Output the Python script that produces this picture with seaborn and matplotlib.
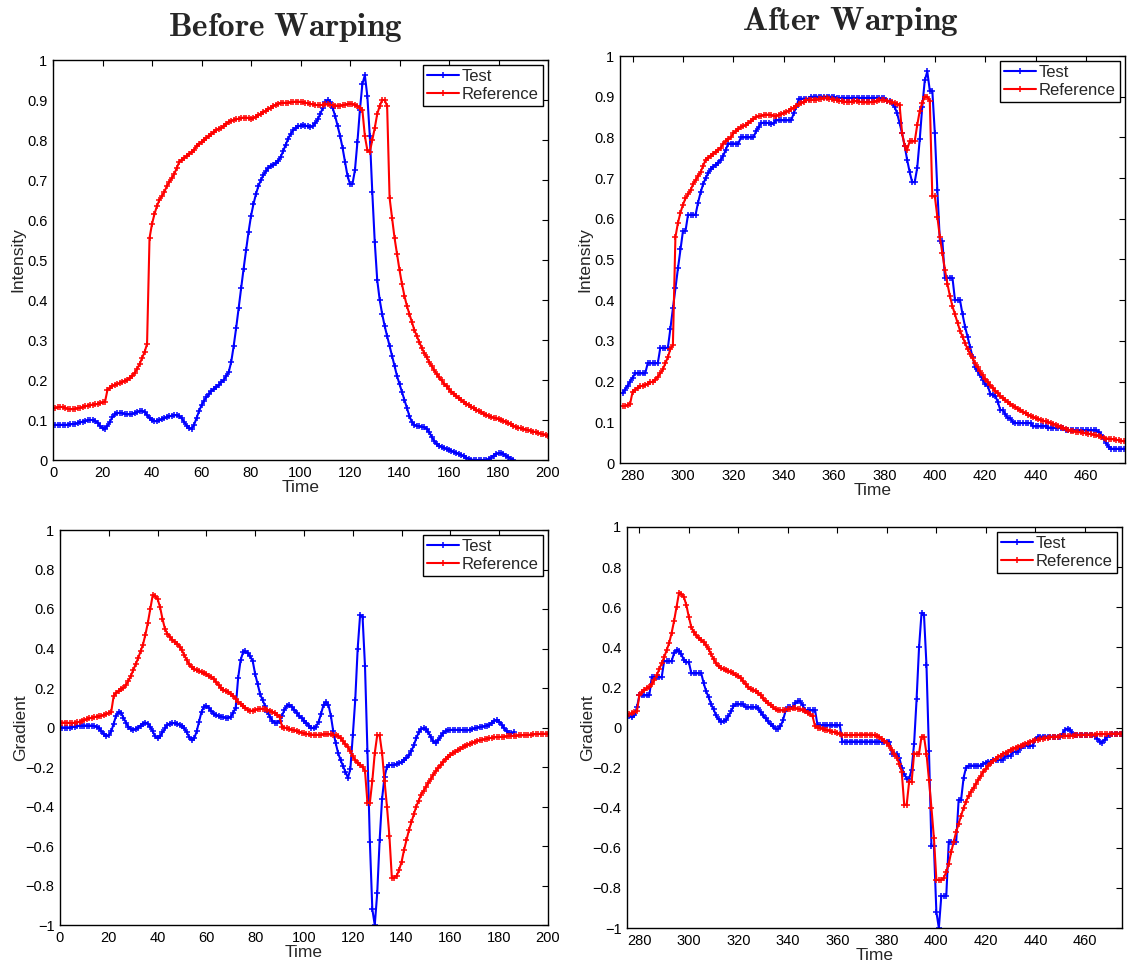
import numpy as np
import matplotlib
matplotlib.use('Agg')
import matplotlib.pyplot as plt
import seaborn as sns
from matplotlib.ticker import FuncFormatter, MultipleLocator

# values, one sample per time step
before_start = 0
after_start = 276

before_test_int = [
    0.088, 0.088, 0.088, 0.088, 0.088, 0.088, 0.088, 0.089, 0.090, 0.091,
    0.092, 0.094, 0.096, 0.097, 0.099, 0.100, 0.100, 0.098, 0.093, 0.086,
    0.079, 0.078, 0.085, 0.096, 0.107, 0.114, 0.117, 0.118, 0.117, 0.115,
    0.114, 0.114, 0.115, 0.117, 0.120, 0.122, 0.123, 0.120, 0.113, 0.105,
    0.099, 0.097, 0.097, 0.099, 0.102, 0.105, 0.107, 0.109, 0.111, 0.112,
    0.112, 0.110, 0.104, 0.095, 0.086, 0.080, 0.078, 0.088, 0.105, 0.122,
    0.137, 0.148, 0.157, 0.165, 0.172, 0.177, 0.182, 0.188, 0.194, 0.200,
    0.210, 0.220, 0.245, 0.285, 0.330, 0.380, 0.430, 0.478, 0.525, 0.570,
    0.610, 0.640, 0.665, 0.685, 0.700, 0.712, 0.722, 0.730, 0.735, 0.738,
    0.742, 0.748, 0.758, 0.772, 0.788, 0.803, 0.815, 0.824, 0.830, 0.834,
    0.836, 0.837, 0.836, 0.834, 0.833, 0.835, 0.842, 0.852, 0.865, 0.880,
    0.895, 0.900, 0.895, 0.880, 0.860, 0.835, 0.810, 0.780, 0.745, 0.710,
    0.690, 0.690, 0.725, 0.795, 0.875, 0.940, 0.962, 0.910, 0.810, 0.670,
    0.545, 0.450, 0.400, 0.365, 0.335, 0.310, 0.285, 0.260, 0.235, 0.210,
    0.190, 0.170, 0.150, 0.130, 0.110, 0.095, 0.088, 0.085, 0.084, 0.083,
    0.082, 0.078, 0.070, 0.058, 0.048, 0.040, 0.036, 0.033, 0.030, 0.028,
    0.026, 0.023, 0.020, 0.018, 0.015, 0.012, 0.009, 0.006, 0.003, 0.001,
    0.000, 0.000, 0.000, 0.000, 0.000, 0.000, 0.002, 0.006, 0.011, 0.015,
    0.017, 0.017, 0.015, 0.011, 0.007, 0.003, 0.001,
]

before_ref_int = [
    0.130, 0.130, 0.132, 0.133, 0.132, 0.130, 0.128, 0.127, 0.127, 0.128,
    0.130, 0.130, 0.132, 0.134, 0.136, 0.138, 0.138, 0.139, 0.140, 0.142,
    0.144, 0.145, 0.175, 0.180, 0.185, 0.188, 0.190, 0.192, 0.195, 0.198,
    0.200, 0.205, 0.210, 0.218, 0.228, 0.240, 0.255, 0.270, 0.290, 0.555,
    0.590, 0.615, 0.635, 0.650, 0.660, 0.670, 0.685, 0.695, 0.705, 0.715,
    0.730, 0.745, 0.750, 0.755, 0.760, 0.765, 0.770, 0.775, 0.785, 0.790,
    0.795, 0.800, 0.805, 0.810, 0.815, 0.820, 0.825, 0.828, 0.830, 0.835,
    0.840, 0.845, 0.848, 0.850, 0.852, 0.853, 0.855, 0.856, 0.856, 0.855,
    0.853, 0.855, 0.858, 0.862, 0.866, 0.870, 0.873, 0.877, 0.881, 0.885,
    0.888, 0.891, 0.893, 0.893, 0.893, 0.893, 0.894, 0.895, 0.896, 0.896,
    0.895, 0.894, 0.893, 0.892, 0.890, 0.889, 0.888, 0.887, 0.887, 0.888,
    0.889, 0.889, 0.888, 0.887, 0.886, 0.886, 0.886, 0.887, 0.888, 0.890,
    0.891, 0.890, 0.888, 0.885, 0.880, 0.875, 0.810, 0.775, 0.770, 0.800,
    0.830, 0.865, 0.885, 0.900, 0.900, 0.885, 0.655, 0.605, 0.555, 0.515,
    0.475, 0.440, 0.410, 0.385, 0.365, 0.345, 0.325, 0.310, 0.295, 0.280,
    0.268, 0.257, 0.245, 0.235, 0.225, 0.215, 0.207, 0.199, 0.191, 0.184,
    0.177, 0.171, 0.165, 0.159, 0.154, 0.149, 0.145, 0.141, 0.137, 0.133,
    0.129, 0.125, 0.122, 0.119, 0.116, 0.113, 0.110, 0.108, 0.106, 0.104,
    0.102, 0.100, 0.098, 0.095, 0.092, 0.089, 0.086, 0.083, 0.081, 0.079,
    0.078, 0.076, 0.075, 0.073, 0.071, 0.070, 0.068, 0.066, 0.064, 0.062,
    0.060,
]

before_test_grad = [
    0.000, 0.000, 0.000, 0.000, 0.000, 0.002, 0.005, 0.007, 0.009, 0.010,
    0.010, 0.010, 0.010, 0.010, 0.008, 0.004, -0.004, -0.018, -0.035, -0.045,
    -0.040, -0.020, 0.020, 0.060, 0.078, 0.075, 0.050, 0.025, 0.005, -0.008,
    -0.012, -0.008, 0.000, 0.010, 0.020, 0.025, 0.020, 0.005, -0.020, -0.045,
    -0.055, -0.045, -0.025, -0.005, 0.012, 0.020, 0.022, 0.022, 0.020, 0.015,
    0.008, -0.005, -0.025, -0.050, -0.065, -0.055, -0.020, 0.030, 0.080, 0.105,
    0.110, 0.100, 0.085, 0.070, 0.062, 0.058, 0.055, 0.052, 0.050, 0.050,
    0.055, 0.075, 0.100, 0.250, 0.340, 0.380, 0.385, 0.375, 0.360, 0.335,
    0.270, 0.220, 0.170, 0.140, 0.110, 0.080, 0.055, 0.035, 0.025, 0.025,
    0.035, 0.060, 0.090, 0.110, 0.115, 0.105, 0.090, 0.075, 0.060, 0.048,
    0.035, 0.022, 0.010, 0.000, -0.005, 0.005, 0.030, 0.070, 0.115, 0.130,
    0.115, 0.060, -0.020, -0.080, -0.130, -0.165, -0.195, -0.225, -0.255, -0.210,
    -0.040, 0.140, 0.400, 0.570, 0.560, 0.310, -0.120, -0.580, -0.920, -1.000,
    -0.840, -0.570, -0.360, -0.250, -0.200, -0.190, -0.190, -0.190, -0.185, -0.180,
    -0.175, -0.165, -0.155, -0.140, -0.120, -0.090, -0.055, -0.025, -0.008, -0.005,
    -0.010, -0.025, -0.050, -0.070, -0.080, -0.065, -0.045, -0.030, -0.020, -0.015,
    -0.012, -0.012, -0.012, -0.012, -0.012, -0.013, -0.014, -0.014, -0.012, -0.008,
    -0.005, 0.000, 0.003, 0.005, 0.006, 0.010, 0.015, 0.025, 0.035, 0.038,
    0.030, 0.015, -0.002, -0.018, -0.028, -0.030, -0.025,
]

before_ref_grad = [
    0.025, 0.025, 0.025, 0.024, 0.023, 0.023, 0.024, 0.026, 0.029, 0.033,
    0.038, 0.042, 0.046, 0.050, 0.053, 0.055, 0.057, 0.060, 0.064, 0.068,
    0.073, 0.080, 0.160, 0.175, 0.185, 0.195, 0.200, 0.215, 0.235, 0.260,
    0.290, 0.320, 0.350, 0.385, 0.420, 0.470, 0.530, 0.600, 0.670, 0.665,
    0.650, 0.610, 0.550, 0.500, 0.475, 0.460, 0.445, 0.435, 0.425, 0.410,
    0.390, 0.365, 0.340, 0.320, 0.305, 0.295, 0.290, 0.285, 0.280, 0.275,
    0.270, 0.260, 0.255, 0.245, 0.230, 0.215, 0.200, 0.190, 0.185, 0.180,
    0.170, 0.160, 0.145, 0.130, 0.120, 0.110, 0.100, 0.090, 0.085, 0.085,
    0.090, 0.092, 0.095, 0.095, 0.094, 0.090, 0.085, 0.080, 0.072, 0.065,
    0.055, 0.005, 0.000, -0.005, -0.008, -0.012, -0.015, -0.018, -0.022, -0.026,
    -0.030, -0.033, -0.035, -0.036, -0.037, -0.037, -0.037, -0.036, -0.035, -0.035,
    -0.035, -0.035, -0.037, -0.040, -0.045, -0.055, -0.070, -0.085, -0.100, -0.120,
    -0.145, -0.165, -0.180, -0.190, -0.200, -0.220, -0.380, -0.380, -0.270, -0.130,
    -0.040, -0.040, -0.130, -0.270, -0.400, -0.550, -0.760, -0.760, -0.750, -0.720,
    -0.680, -0.620, -0.570, -0.520, -0.480, -0.440, -0.400, -0.370, -0.340, -0.320,
    -0.300, -0.280, -0.260, -0.240, -0.220, -0.205, -0.190, -0.175, -0.160, -0.150,
    -0.140, -0.130, -0.122, -0.115, -0.108, -0.100, -0.094, -0.088, -0.082, -0.077,
    -0.072, -0.068, -0.065, -0.062, -0.059, -0.056, -0.054, -0.052, -0.050, -0.049,
    -0.048, -0.047, -0.046, -0.045, -0.044, -0.043, -0.042, -0.041, -0.040, -0.040,
    -0.039, -0.038, -0.037, -0.036, -0.035, -0.034, -0.033, -0.032, -0.032, -0.031,
    -0.031,
]

after_test_int = [
    0.172, 0.180, 0.190, 0.200, 0.210, 0.220, 0.220, 0.220, 0.220, 0.220,
    0.245, 0.245, 0.245, 0.245, 0.245, 0.283, 0.283, 0.283, 0.283, 0.330,
    0.380, 0.430, 0.478, 0.525, 0.570, 0.570, 0.610, 0.610, 0.610, 0.610,
    0.640, 0.665, 0.685, 0.700, 0.712, 0.722, 0.728, 0.733, 0.738, 0.745,
    0.755, 0.770, 0.785, 0.785, 0.785, 0.785, 0.785, 0.800, 0.800, 0.800,
    0.800, 0.800, 0.800, 0.815, 0.825, 0.835, 0.836, 0.836, 0.835, 0.833,
    0.835, 0.842, 0.842, 0.842, 0.842, 0.842, 0.842, 0.842, 0.860, 0.875,
    0.895, 0.895, 0.895, 0.895, 0.895, 0.900, 0.900, 0.900, 0.900, 0.900,
    0.900, 0.900, 0.900, 0.900, 0.900, 0.897, 0.897, 0.897, 0.897, 0.897,
    0.897, 0.897, 0.897, 0.897, 0.897, 0.897, 0.897, 0.897, 0.897, 0.897,
    0.897, 0.897, 0.897, 0.897, 0.897, 0.890, 0.890, 0.885, 0.875, 0.860,
    0.835, 0.810, 0.780, 0.745, 0.715, 0.690, 0.690, 0.725, 0.795, 0.875,
    0.940, 0.962, 0.915, 0.915, 0.810, 0.670, 0.545, 0.545, 0.455, 0.455,
    0.455, 0.455, 0.400, 0.400, 0.400, 0.365, 0.335, 0.310, 0.285, 0.260,
    0.235, 0.225, 0.215, 0.205, 0.195, 0.190, 0.170, 0.168, 0.165, 0.150,
    0.130, 0.130, 0.120, 0.110, 0.110, 0.100, 0.098, 0.098, 0.098, 0.098,
    0.098, 0.098, 0.098, 0.090, 0.090, 0.090, 0.090, 0.090, 0.090, 0.087,
    0.087, 0.087, 0.087, 0.087, 0.087, 0.087, 0.080, 0.080, 0.080, 0.080,
    0.080, 0.080, 0.080, 0.080, 0.080, 0.080, 0.080, 0.080, 0.080, 0.075,
    0.070, 0.060, 0.050, 0.040, 0.035, 0.035, 0.035, 0.035, 0.035, 0.035,
]

after_ref_int = [
    0.140, 0.140, 0.142, 0.145, 0.175, 0.180, 0.185, 0.188, 0.190, 0.192,
    0.195, 0.198, 0.200, 0.205, 0.212, 0.220, 0.230, 0.245, 0.260, 0.280,
    0.290, 0.555, 0.590, 0.615, 0.635, 0.650, 0.660, 0.670, 0.685, 0.695,
    0.705, 0.715, 0.730, 0.745, 0.750, 0.755, 0.760, 0.765, 0.770, 0.775,
    0.785, 0.790, 0.795, 0.800, 0.810, 0.815, 0.820, 0.825, 0.828, 0.830,
    0.835, 0.840, 0.845, 0.850, 0.852, 0.853, 0.855, 0.856, 0.856, 0.855,
    0.853, 0.853, 0.855, 0.857, 0.860, 0.863, 0.866, 0.870, 0.873, 0.877,
    0.881, 0.885, 0.888, 0.891, 0.893, 0.893, 0.893, 0.893, 0.894, 0.895,
    0.896, 0.896, 0.895, 0.894, 0.893, 0.892, 0.890, 0.889, 0.888, 0.887,
    0.887, 0.888, 0.889, 0.889, 0.888, 0.887, 0.886, 0.886, 0.886, 0.887,
    0.888, 0.890, 0.891, 0.891, 0.891, 0.890, 0.888, 0.886, 0.884, 0.882,
    0.880, 0.810, 0.780, 0.770, 0.790, 0.790, 0.790, 0.830, 0.865, 0.885,
    0.900, 0.900, 0.890, 0.655, 0.655, 0.605, 0.555, 0.515, 0.475, 0.440,
    0.410, 0.385, 0.365, 0.345, 0.325, 0.310, 0.295, 0.280, 0.268, 0.257,
    0.245, 0.235, 0.225, 0.215, 0.207, 0.199, 0.191, 0.184, 0.177, 0.171,
    0.165, 0.159, 0.154, 0.149, 0.145, 0.141, 0.137, 0.133, 0.129, 0.125,
    0.122, 0.119, 0.116, 0.113, 0.110, 0.108, 0.106, 0.104, 0.102, 0.100,
    0.098, 0.096, 0.094, 0.092, 0.089, 0.086, 0.083, 0.081, 0.079, 0.078,
    0.077, 0.076, 0.075, 0.074, 0.073, 0.072, 0.071, 0.070, 0.068, 0.066,
    0.064, 0.062, 0.060, 0.060, 0.059, 0.058, 0.057, 0.056, 0.055, 0.053,
]

after_test_grad = [
    0.055, 0.050, 0.060, 0.100, 0.160, 0.160, 0.160, 0.160, 0.160, 0.250,
    0.250, 0.250, 0.250, 0.250, 0.330, 0.330, 0.330, 0.330, 0.370, 0.385,
    0.380, 0.365, 0.335, 0.325, 0.325, 0.270, 0.270, 0.270, 0.270, 0.270,
    0.220, 0.180, 0.150, 0.115, 0.090, 0.060, 0.040, 0.028, 0.030, 0.038,
    0.055, 0.080, 0.105, 0.115, 0.115, 0.115, 0.115, 0.100, 0.100, 0.100,
    0.100, 0.100, 0.095, 0.075, 0.060, 0.045, 0.030, 0.015, 0.005, -0.005,
    -0.008, 0.005, 0.035, 0.080, 0.100, 0.100, 0.100, 0.120, 0.130, 0.130,
    0.110, 0.085, 0.085, 0.085, 0.085, 0.085, 0.010, 0.010, 0.010, 0.010,
    0.010, 0.010, 0.010, 0.010, 0.010, 0.010, -0.070, -0.070, -0.070, -0.070,
    -0.070, -0.070, -0.070, -0.070, -0.070, -0.070, -0.070, -0.070, -0.070, -0.070,
    -0.070, -0.070, -0.070, -0.070, -0.070, -0.070, -0.130, -0.130, -0.130, -0.150,
    -0.200, -0.230, -0.255, -0.255, -0.210, -0.080, 0.140, 0.400, 0.570, 0.560,
    0.310, -0.115, -0.590, -0.590, -0.920, -1.000, -0.840, -0.840, -0.840, -0.570,
    -0.570, -0.570, -0.570, -0.360, -0.360, -0.250, -0.200, -0.190, -0.190, -0.190,
    -0.190, -0.190, -0.190, -0.180, -0.175, -0.170, -0.170, -0.160, -0.160, -0.160,
    -0.160, -0.160, -0.140, -0.140, -0.140, -0.120, -0.120, -0.120, -0.100, -0.090,
    -0.090, -0.090, -0.090, -0.090, -0.060, -0.045, -0.045, -0.045, -0.045, -0.045,
    -0.045, -0.045, -0.045, -0.045, -0.045, -0.030, -0.010, -0.005, -0.010, -0.030,
    -0.035, -0.035, -0.035, -0.035, -0.035, -0.035, -0.035, -0.035, -0.040, -0.055,
    -0.070, -0.075, -0.060, -0.045, -0.035, -0.030, -0.030, -0.030, -0.030, -0.030,
]

after_ref_grad = [
    0.065, 0.070, 0.075, 0.080, 0.160, 0.175, 0.185, 0.195, 0.200, 0.215,
    0.235, 0.260, 0.290, 0.320, 0.350, 0.385, 0.420, 0.470, 0.530, 0.600,
    0.670, 0.665, 0.650, 0.610, 0.550, 0.500, 0.475, 0.460, 0.445, 0.435,
    0.425, 0.410, 0.390, 0.365, 0.340, 0.320, 0.305, 0.295, 0.290, 0.285,
    0.280, 0.275, 0.270, 0.260, 0.255, 0.245, 0.230, 0.215, 0.200, 0.190,
    0.185, 0.180, 0.170, 0.160, 0.145, 0.130, 0.120, 0.110, 0.100, 0.090,
    0.085, 0.085, 0.085, 0.088, 0.090, 0.092, 0.095, 0.095, 0.094, 0.090,
    0.085, 0.080, 0.072, 0.065, 0.055, 0.005, 0.000, -0.003, -0.006, -0.010,
    -0.013, -0.016, -0.020, -0.024, -0.028, -0.032, -0.035, -0.037, -0.038, -0.038,
    -0.038, -0.037, -0.036, -0.035, -0.035, -0.035, -0.035, -0.035, -0.036, -0.038,
    -0.042, -0.048, -0.056, -0.065, -0.075, -0.090, -0.110, -0.130, -0.150, -0.180,
    -0.220, -0.385, -0.385, -0.270, -0.270, -0.130, -0.130, -0.130, -0.045, -0.045,
    -0.130, -0.260, -0.400, -0.550, -0.760, -0.760, -0.760, -0.750, -0.720, -0.680,
    -0.620, -0.570, -0.520, -0.480, -0.440, -0.400, -0.370, -0.340, -0.320, -0.300,
    -0.280, -0.260, -0.240, -0.220, -0.205, -0.190, -0.175, -0.165, -0.155, -0.145,
    -0.140, -0.130, -0.125, -0.120, -0.110, -0.105, -0.100, -0.095, -0.090, -0.085,
    -0.080, -0.075, -0.070, -0.066, -0.063, -0.060, -0.057, -0.055, -0.052, -0.050,
    -0.048, -0.047, -0.046, -0.045, -0.044, -0.043, -0.042, -0.041, -0.040, -0.040,
    -0.039, -0.038, -0.038, -0.037, -0.037, -0.036, -0.036, -0.035, -0.035, -0.034,
    -0.034, -0.033, -0.033, -0.032, -0.032, -0.031, -0.031, -0.030, -0.030, -0.030,
]

W, H = 1127, 963

sns.set_style('white')
plt.rcParams['font.family'] = ['Liberation Sans', 'DejaVu Sans']
plt.rcParams['mathtext.fontset'] = 'cm'
plt.rcParams['axes.unicode_minus'] = True


def px_rect(left, right, top, bottom):
    return [left / W, (H - bottom) / H, (right - left) / W, (bottom - top) / H]


def tick_text(v, pos):
    v = round(v, 6)
    if v == 0:
        return '0'
    return f'{v:g}'.replace('-', '\u2212')


fmt = FuncFormatter(tick_text)


def draw(ax, start, test, ref, ylabel, xlim, ylim, ystep, xticks, ypad):
    for vals, col, name in ((test, 'blue', 'Test'), (ref, 'red', 'Reference')):
        t = np.arange(start, start + len(vals))
        sns.lineplot(x=t, y=vals, color=col, marker='+', markersize=5,
                     markeredgecolor=col, markeredgewidth=1.1,
                     linewidth=1.5, label=name, ax=ax)
    ax.set_xlim(*xlim)
    ax.set_ylim(*ylim)
    ax.set_xticks(xticks)
    ax.yaxis.set_major_locator(MultipleLocator(ystep))
    ax.xaxis.set_major_formatter(fmt)
    ax.yaxis.set_major_formatter(fmt)
    ax.tick_params(direction='in', length=4, width=0.8, top=True, right=True,
                   labelsize=10.5, pad=4, colors='black')
    for s in ax.spines.values():
        s.set_visible(True)
        s.set_color('black')
        s.set_linewidth(1.0)
    ax.set_xlabel('Time', fontsize=12.5, labelpad=0)
    ax.set_ylabel(ylabel, fontsize=12.5, labelpad=ypad)
    leg = ax.legend(loc='upper right', fontsize=12, frameon=True, fancybox=False,
                    framealpha=1, edgecolor='black', handlelength=1.9,
                    handletextpad=0.2, borderpad=0.25, labelspacing=0.15,
                    borderaxespad=0.3)
    leg.get_frame().set_linewidth(1.0)


fig = plt.figure(figsize=(W / 100, H / 100), dpi=100)
ax_tl = fig.add_axes(px_rect(53, 548, 60, 460))
ax_tr = fig.add_axes(px_rect(620, 1125, 56, 463))
ax_bl = fig.add_axes(px_rect(60, 548, 530, 925))
ax_br = fig.add_axes(px_rect(627, 1122, 527, 928))

draw(ax_tl, before_start, before_test_int, before_ref_int, 'Intensity',
     (0, 200), (0, 1), 0.1, range(0, 201, 20), 1)
draw(ax_tr, after_start, after_test_int, after_ref_int, 'Intensity',
     (275, 475.5), (0, 1), 0.1, range(280, 461, 20), 1)
draw(ax_bl, before_start, before_test_grad, before_ref_grad, 'Gradient',
     (0, 200), (-1, 1), 0.2, range(0, 201, 20), -2)
draw(ax_br, after_start, after_test_grad, after_ref_grad, 'Gradient',
     (275, 475), (-1, 1), 0.2, range(280, 461, 20), -2)

fig.text(285 / W, 1 - 27 / H, r'$\mathbf{Before\ Warping}$', fontsize=24,
         ha='center', va='center')
fig.text(851 / W, 1 - 22 / H, r'$\mathbf{After\ Warping}$', fontsize=24,
         ha='center', va='center')

fig.savefig('out.png', dpi=100)
